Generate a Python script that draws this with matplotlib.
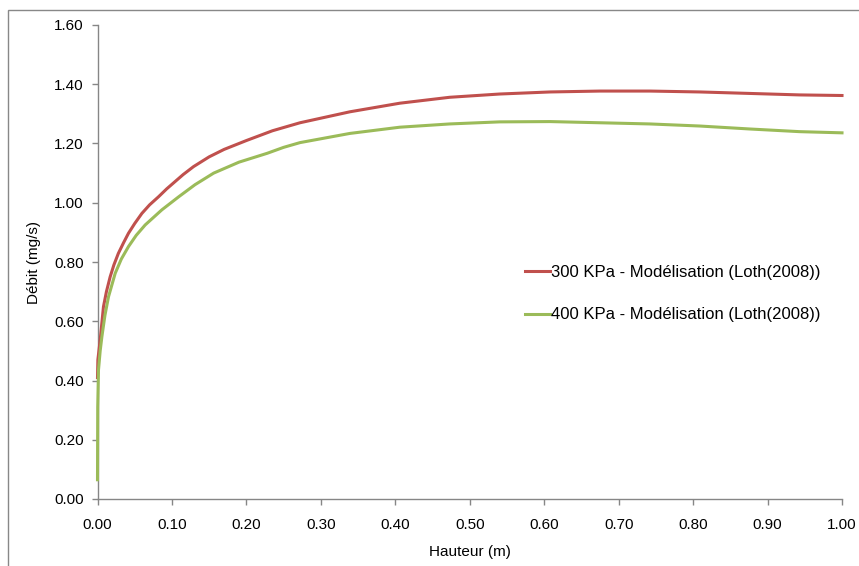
import matplotlib
matplotlib.use("Agg")
import matplotlib.pyplot as plt
from matplotlib.patches import Rectangle
from matplotlib.ticker import FormatStrFormatter, MultipleLocator

plt.rcParams['font.family'] = ['Liberation Sans', 'DejaVu Sans']

# 300 KPa curve
hauteur_300 = [0.0, 0.0005, 0.0036, 0.008, 0.012, 0.017, 0.022, 0.028, 0.035,
               0.0416, 0.050, 0.0596, 0.070, 0.0819, 0.093, 0.104, 0.115,
               0.129, 0.150, 0.170, 0.200, 0.235, 0.272, 0.339, 0.406, 0.473,
               0.540, 0.608, 0.675, 0.742, 0.809, 0.876, 0.943, 1.0]
debit_300 = [0.41, 0.47, 0.537, 0.649, 0.700, 0.750, 0.790, 0.829, 0.865,
             0.897, 0.930, 0.964, 0.993, 1.020, 1.047, 1.071, 1.095,
             1.122, 1.155, 1.180, 1.210, 1.243, 1.270, 1.307, 1.336, 1.356,
             1.367, 1.374, 1.377, 1.377, 1.374, 1.369, 1.364, 1.362]

# 400 KPa curve
hauteur_400 = [0.0, 0.0003, 0.0013, 0.0036, 0.0059, 0.010, 0.0148, 0.0238,
               0.032, 0.0416, 0.052, 0.064, 0.0864, 0.109, 0.131, 0.156, 0.19,
               0.228, 0.250, 0.272, 0.339, 0.406, 0.473, 0.540, 0.608, 0.675,
               0.742, 0.809, 0.876, 0.943, 1.0]
debit_400 = [0.065, 0.31, 0.435, 0.50, 0.548, 0.62, 0.683, 0.762,
             0.81, 0.852, 0.89, 0.925, 0.976, 1.020, 1.061, 1.100, 1.137,
             1.167, 1.187, 1.203, 1.234, 1.255, 1.266, 1.273, 1.274, 1.270,
             1.266, 1.259, 1.249, 1.240, 1.236]

labels = ["300 KPa - Modélisation (Loth(2008))",
          "400 KPa - Modélisation (Loth(2008))"]
colors = ["#C0504D", "#9BBB59"]

fig = plt.figure(figsize=(8.59, 5.66), dpi=100)
ax = fig.add_axes([97.5 / 859, 1 - 499 / 566, 744.5 / 859, 474 / 566])

ax.plot(hauteur_300, debit_300, color=colors[0], lw=2.2, label=labels[0],
        zorder=3, clip_on=False)
ax.plot(hauteur_400, debit_400, color=colors[1], lw=2.2, label=labels[1],
        zorder=3, clip_on=False)

ax.set_xlim(0, 1.0)
ax.set_ylim(0, 1.6)
ax.xaxis.set_major_locator(MultipleLocator(0.1))
ax.yaxis.set_major_locator(MultipleLocator(0.2))
ax.xaxis.set_major_formatter(FormatStrFormatter('%.2f'))
ax.yaxis.set_major_formatter(FormatStrFormatter('%.2f'))

for s in ('top', 'right'):
    ax.spines[s].set_visible(False)
for s in ('left', 'bottom'):
    ax.spines[s].set_color('#868686')
    ax.spines[s].set_linewidth(1.0)
    ax.spines[s].set_zorder(2)
ax.tick_params(axis='both', direction='out', length=4, width=1.0,
               color='#868686', labelsize=11, labelcolor='black')
ax.tick_params(axis='y', pad=6)
ax.tick_params(axis='x', pad=10)

ax.set_xlabel("Hauteur (m)", fontsize=11, labelpad=9)
ax.set_ylabel("Débit (mg/s)", fontsize=11, labelpad=9)

ax.legend(loc='upper left', bbox_to_anchor=(525 / 859, 1 - 265 / 566),
          bbox_transform=fig.transFigure, frameon=False, fontsize=12,
          handlelength=1.5, handletextpad=0.05, labelspacing=1.65,
          borderpad=0, borderaxespad=0)

# outer chart-area frame
fig.patches.append(Rectangle((8 / 859, -0.1), 1.2, 1 - 10 / 566 + 0.1,
                             transform=fig.transFigure, fill=False,
                             edgecolor='#888888', lw=1.0))

fig.savefig("out.png", dpi=100)
